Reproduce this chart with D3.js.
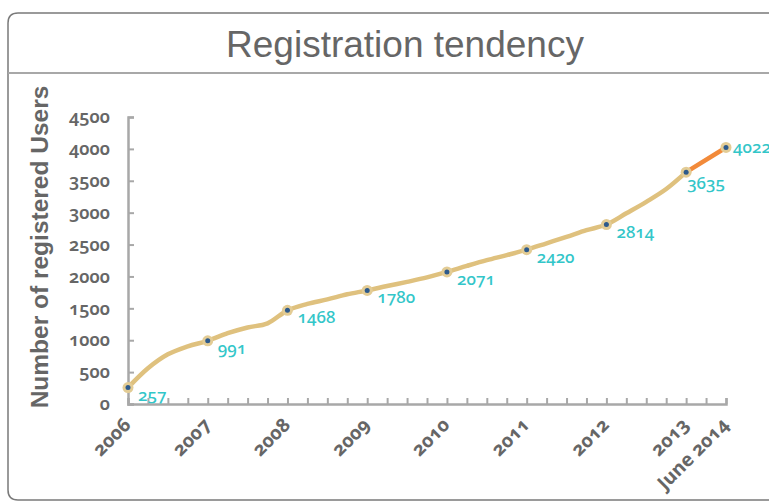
<!DOCTYPE html>
<html><head><meta charset="utf-8">
<script src="https://cdn.jsdelivr.net/npm/d3@7"></script>
<style>
html,body{margin:0;padding:0;background:#fff;}
svg{display:block;}
.num{font-family:"Noto Sans",sans-serif;font-variant-numeric:oldstyle-nums;font-feature-settings:"onum" 1;}
</style></head>
<body>
<svg id="chart" width="769" height="503"></svg>
<script>
// ---- data ----
const title = "Registration tendency";
const yAxisTitle = "Number of registered Users";
const yearLabels = ["2006","2007","2008","2009","2010","2011","2012","2013","June 2014"];
const yearPos = [0,1,2,3,4,5,6,7,7.5];
const yearValues = [257,991,1468,1780,2071,2420,2814,3635,4022];
const yTicks = [0,500,1000,1500,2000,2500,3000,3500,4000,4500];
// quarterly trend
const trendPos = [0,0.25,0.5,0.75,1,1.25,1.5,1.75,2,2.25,2.5,2.75,3,3.25,3.5,3.75,4,4.25,4.5,4.75,5,5.25,5.5,5.75,6,6.25,6.5,6.75,7];
const trendValues = [257,560,779,904,991,1110,1200,1265,1468,1570,1640,1720,1780,1850,1915,1985,2071,2165,2255,2335,2420,2520,2620,2725,2814,2990,3170,3370,3635];
const recentPos = [7,7.5];
const recentValues = [3635,4022];
const quarterTicks = d3.range(0, 7.5001, 0.25);

const svg = d3.select("#chart");

// frame
svg.append("path")
  .attr("d","M780,13 L18,13 Q8,13 8,23 L8,490 Q8,500 18,500 L780,500")
  .attr("fill","none").attr("stroke","#7a7a7a").attr("stroke-width",1.5);
svg.append("line").attr("x1",8).attr("x2",769).attr("y1",73).attr("y2",73)
  .attr("stroke","#a8a8a8").attr("stroke-width",2);

svg.append("text").attr("x",405).attr("y",57).attr("text-anchor","middle")
  .attr("font-family","Liberation Sans, Arial, sans-serif").attr("font-size",37)
  .attr("fill","#666").text(title);

const x = d3.scaleLinear().domain([0,7.5]).range([128,726]);
const y = d3.scaleLinear().domain([0,4500]).range([404,117]);

// y axis
const gy = svg.append("g").attr("transform","translate(128,0)")
  .call(d3.axisLeft(y).tickValues(yTicks).tickSize(-6).tickPadding(18).tickFormat(d3.format("d")));
gy.select(".domain").attr("stroke","#a8a8a8").attr("stroke-width",2.5);
gy.selectAll(".tick line").attr("stroke","#a8a8a8").attr("stroke-width",2);
gy.selectAll(".tick text").attr("class","num").attr("font-size",18).attr("font-weight",600).attr("fill","#666");

// x axis
const gx = svg.append("g").attr("transform","translate(0,404)")
  .call(d3.axisBottom(x).tickValues(quarterTicks).tickSize(-6).tickFormat(""));
gx.select(".domain").attr("stroke","#a8a8a8").attr("stroke-width",2.5);
gx.selectAll(".tick line").attr("stroke","#a8a8a8").attr("stroke-width",2);

// x labels
svg.append("g").selectAll("text").data(yearLabels).join("text")
  .attr("class","num")
  .attr("transform",(d,i)=>`translate(${x(yearPos[i])+4},${426}) rotate(-45)`)
  .attr("text-anchor","end").attr("font-size",19).attr("font-weight",700).attr("fill","#666")
  .text(d=>d);

// y axis title
svg.append("text").attr("transform","translate(48,247) rotate(-90)")
  .attr("text-anchor","middle").attr("font-family","Liberation Sans, Arial, sans-serif")
  .attr("font-weight","bold").attr("font-size",24.5).attr("fill","#666").text(yAxisTitle);

// lines
const line = d3.line().x(d=>x(d[0])).y(d=>y(d[1])).curve(d3.curveMonotoneX);
svg.append("path").datum(trendPos.map((p,i)=>[p,trendValues[i]]))
  .attr("d",line).attr("fill","none").attr("stroke","#dfc17e").attr("stroke-width",4.5).attr("stroke-linecap","round");
svg.append("path").datum(recentPos.map((p,i)=>[p,recentValues[i]]))
  .attr("d",line).attr("fill","none").attr("stroke","#f28a3a").attr("stroke-width",4.5).attr("stroke-linecap","round");

// markers
const pts = yearPos.map((p,i)=>({p, v:yearValues[i], i}));
svg.append("g").selectAll("circle").data(pts).join("circle")
  .attr("cx",d=>x(d.p)).attr("cy",d=>y(d.v)).attr("r",5.5).attr("fill","#e3cc95");
svg.append("g").selectAll("circle").data(pts).join("circle")
  .attr("cx",d=>x(d.p)).attr("cy",d=>y(d.v)).attr("r",2.5).attr("fill","#2d5a8c");

// value labels
svg.append("g").selectAll("text").data(pts).join("text")
  .attr("class","num")
  .attr("x",d=> d.i===8 ? x(d.p)+7 : d.i===7 ? x(d.p)+1 : x(d.p)+10)
  .attr("y",d=> d.i===8 ? y(d.v)+6 : d.i===7 ? y(d.v)+17 : y(d.v)+13)
  .attr("font-size",17).attr("font-weight",500).attr("fill","#33c6c9")
  .text(d=>d.v);
</script>
</body></html>
